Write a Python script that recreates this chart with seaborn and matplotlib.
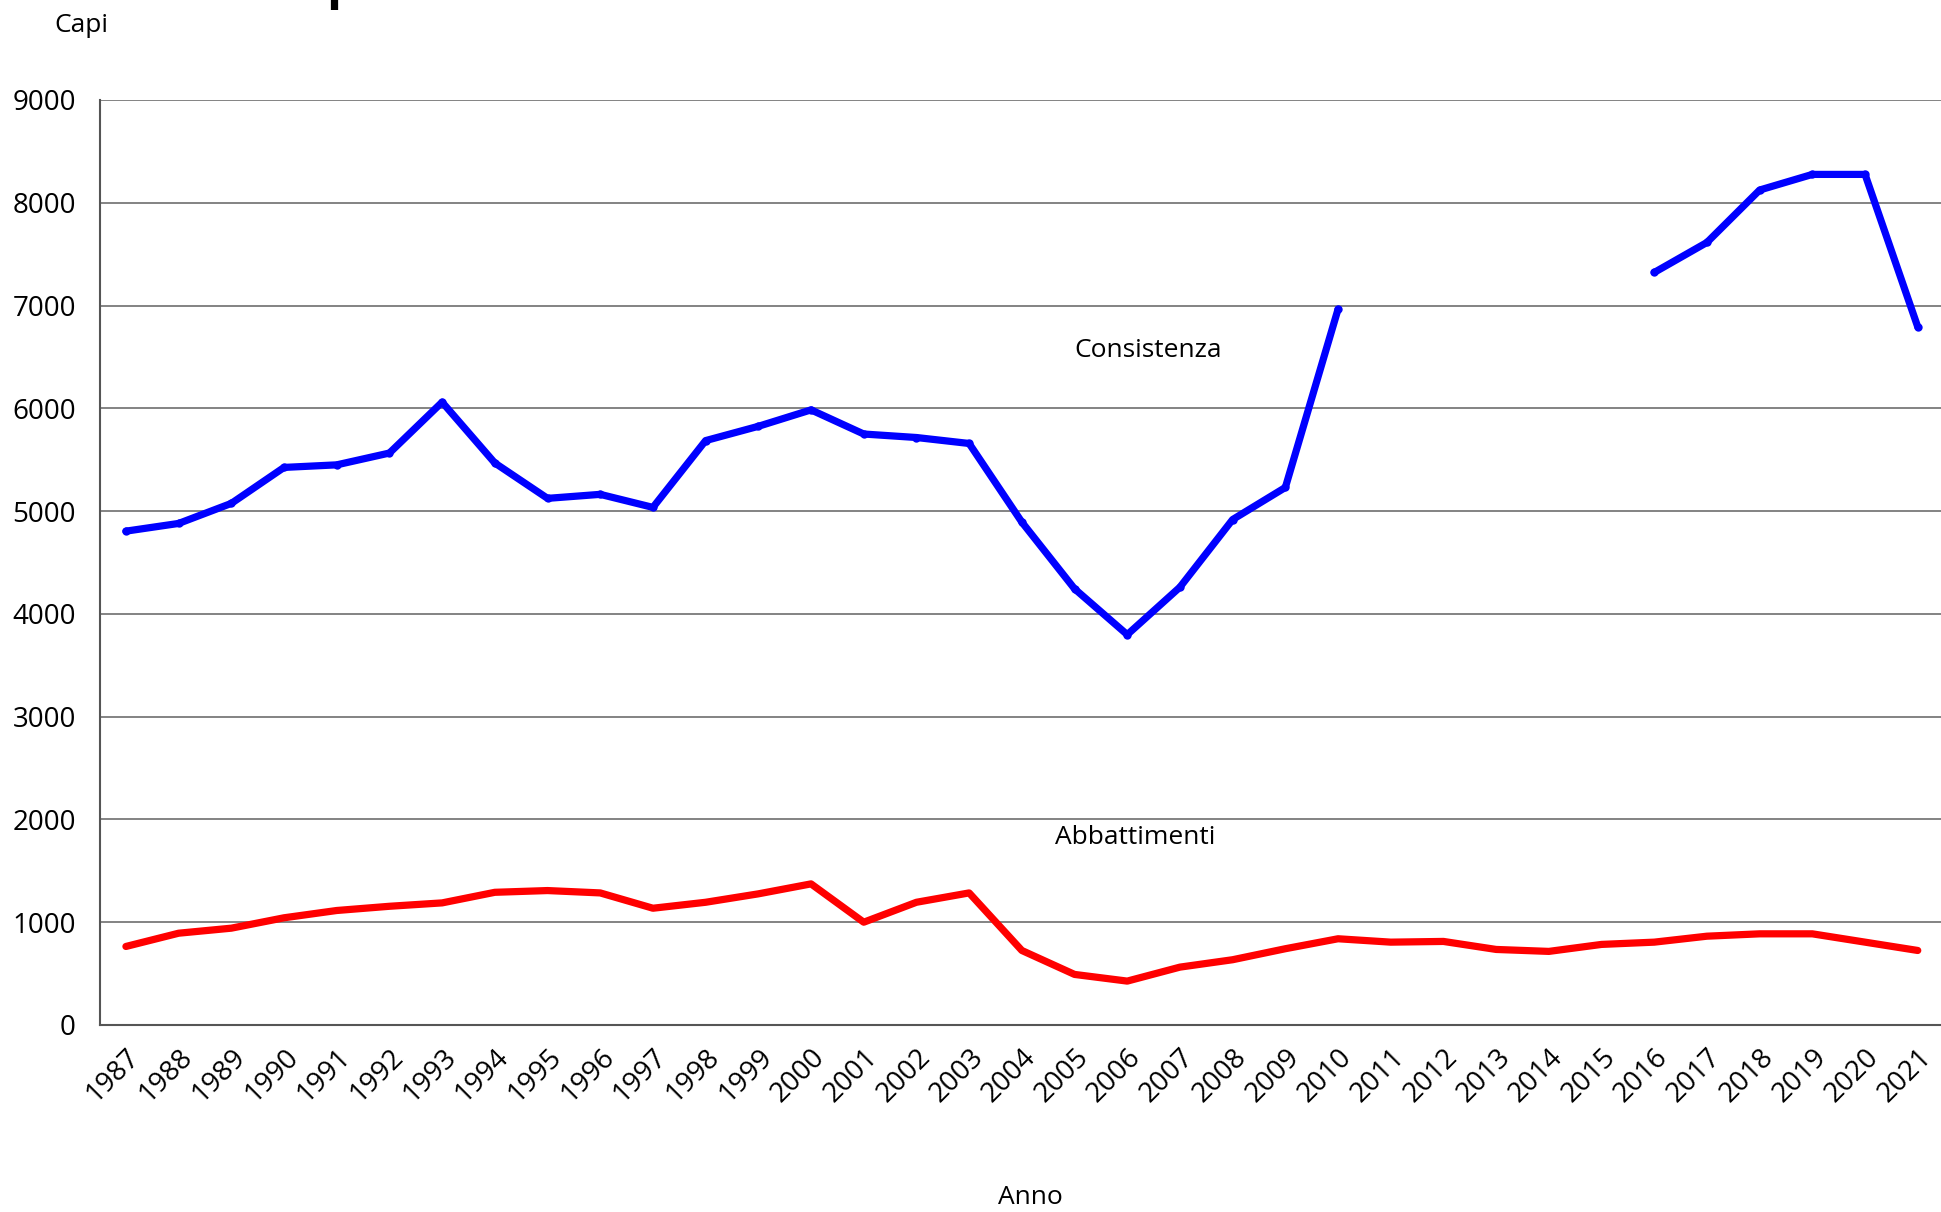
import numpy as np
import pandas as pd
import matplotlib
matplotlib.use('Agg')
import matplotlib.pyplot as plt
from matplotlib.ticker import MultipleLocator, FixedLocator
import seaborn as sns

# anni e valori
anni = list(range(1987, 2022))

consistenza = [4805, 4880, 5075, 5425, 5450, 5565, 6060, 5468, 5124, 5163,
               5036, 5686, 5825, 5985, 5750, 5716, 5658, 4893, 4244, 3798,
               4260, 4918, 5230, 6964, np.nan, np.nan, np.nan, np.nan, np.nan,
               7322, 7614, 8124, 8276, 8276, 6792]

abbattimenti = [764, 893, 942, 1043, 1114, 1155, 1188, 1291, 1308, 1285,
                1136, 1194, 1276, 1373, 1000, 1194, 1285, 725, 492, 427,
                563, 635, 742, 839, 806, 813, 735, 716, 784, 806,
                864, 887, 887, 806, 725]

df = pd.DataFrame({'Anno': anni, 'Consistenza': consistenza, 'Abbattimenti': abbattimenti})
# tratti separati per la consistenza (mancano 2011-2015)
df['tratto'] = df['Consistenza'].isna().cumsum()
df_cons = df.dropna(subset=['Consistenza'])

sns.set_style("white")
plt.rcParams['font.family'] = ['Open Sans', 'DejaVu Sans']
plt.rcParams['text.color'] = 'black'
plt.rcParams['xtick.color'] = 'black'
plt.rcParams['ytick.color'] = 'black'

fig = plt.figure(figsize=(19.41, 12.12), dpi=100)
ax = fig.add_axes([0.0513, 0.1543, 0.9503, 0.7632])

ax.yaxis.grid(True, color='#7a7a7a', linewidth=1.3)
ax.set_axisbelow(True)

sns.lineplot(data=df_cons, x='Anno', y='Consistenza', units='tratto', estimator=None,
             color='#0000ff', linewidth=5.2, marker='o', markersize=6,
             markeredgewidth=0, ax=ax)
sns.lineplot(data=df, x='Anno', y='Abbattimenti', estimator=None,
             color='#ff0000', linewidth=5.2, ax=ax)

ax.set_xlim(1986.5, 2021.5)
ax.set_ylim(0, 9000)
ax.yaxis.set_major_locator(MultipleLocator(1000))

ax.xaxis.set_major_locator(FixedLocator(anni))
ax.xaxis.set_minor_locator(FixedLocator(np.arange(1986.5, 2022, 1)))
ax.set_xticklabels([str(a) for a in anni], rotation=45, ha='right',
                   rotation_mode='anchor', fontsize=20)
ax.tick_params(axis='x', which='major', length=0, pad=13)
ax.tick_params(axis='x', which='minor', length=9, width=1.2, color='#555555', direction='out')
ax.tick_params(axis='y', which='major', length=8, width=1.2, color='#555555',
               direction='out', labelsize=20, pad=9)

for s in ['top', 'right']:
    ax.spines[s].set_visible(False)
for s in ['left', 'bottom']:
    ax.spines[s].set_color('#555555')
    ax.spines[s].set_linewidth(1.5)

ax.set_xlabel('')
ax.set_ylabel('')

ax.text(2006.4, 6560, 'Consistenza', fontsize=19, ha='center', va='center')
ax.text(2006.15, 1820, 'Abbattimenti', fontsize=19, ha='center', va='center')

fig.text(0.028, 0.979, 'Capi', fontsize=19, ha='left', va='center')
fig.text(0.531, 0.012, 'Anno', fontsize=19, ha='center', va='center')
# titolo tagliato in alto
fig.text(0.168, 1.002, 'p', fontsize=36, fontweight='bold', ha='left', va='baseline')

fig.savefig('out.png', dpi=100)
